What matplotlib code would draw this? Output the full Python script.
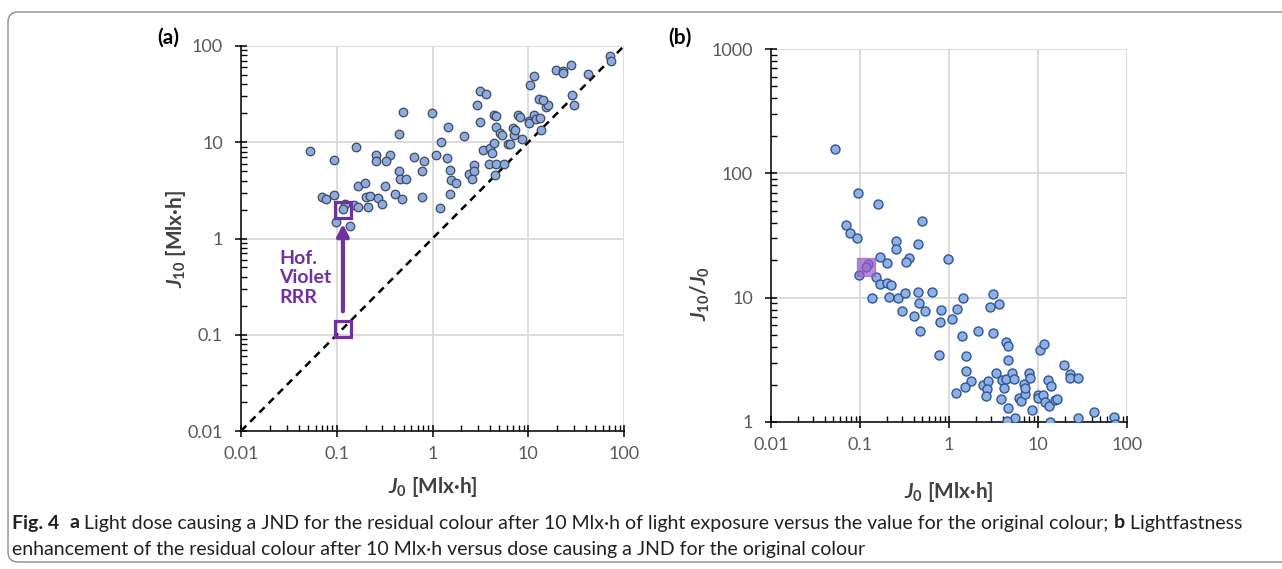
import numpy as np
import matplotlib
matplotlib.use('Agg')
import matplotlib.pyplot as plt
from matplotlib.ticker import LogLocator, FuncFormatter, NullFormatter
from matplotlib.patches import FancyBboxPatch

plt.rcParams['font.family'] = ['Lato', 'DejaVu Sans']
plt.rcParams['mathtext.fontset'] = 'custom'
plt.rcParams['mathtext.it'] = 'Lato:bold:italic'
plt.rcParams['mathtext.rm'] = 'Lato:bold'
plt.rcParams['mathtext.bf'] = 'Lato:bold'

# dose causing a JND for the original colour [Mlx.h]
J0 = [0.052, 0.094, 0.158, 0.497, 0.0703, 0.0779, 0.0925, 0.256, 0.256, 0.445,
      0.166, 0.1995, 0.358, 0.329, 0.983, 0.123, 0.116, 0.0975, 0.153, 0.166,
      0.203, 0.221, 0.136, 0.210, 0.267, 0.321, 0.449, 0.639, 0.456, 0.294,
      0.408, 0.533, 0.476, 0.806, 0.786, 0.778, 1.09, 1.23, 1.44, 1.41,
      1.54, 1.57, 1.75, 1.51, 1.20, 2.14, 3.12, 3.15, 2.91, 3.61,
      4.36, 4.60, 4.60, 2.39, 2.74, 2.70, 2.58, 3.40, 3.94, 4.41,
      5.06, 5.33, 4.15, 3.87, 4.60, 5.52, 4.52, 6.12, 6.50, 7.09,
      6.96, 7.20, 7.86, 8.13, 8.63, 10.4, 11.6, 10.1, 10.1, 11.5,
      12.1, 13.3, 15.4, 16.2, 12.9, 14.1, 13.5, 19.4, 22.9, 22.9,
      27.9, 28.4, 42.5, 70.8, 73.0, 30.0]
# dose causing a JND for the residual colour after 10 Mlx.h [Mlx.h]
J10 = [8.16, 6.58, 8.96, 20.6, 2.72, 2.57, 2.81, 7.32, 6.35, 12.06,
       3.50, 3.80, 7.45, 6.32, 20.15, 2.30, 2.04, 1.47, 2.25, 2.12,
       2.68, 2.78, 1.35, 2.14, 2.65, 3.50, 4.98, 7.09, 4.15, 2.30,
       2.91, 4.18, 2.56, 6.40, 4.97, 2.70, 7.32, 9.95, 14.4, 6.92,
       5.19, 4.05, 3.73, 2.88, 2.05, 11.6, 16.1, 34.0, 24.6, 32.0,
       19.1, 18.8, 14.5, 4.71, 5.81, 4.97, 4.15, 8.36, 8.63, 9.75,
       12.45, 11.9, 7.80, 5.92, 5.93, 5.96, 4.57, 9.49, 9.56, 11.8,
       14.1, 13.4, 19.3, 18.2, 10.7, 39.4, 48.8, 16.8, 15.7, 19.1,
       17.4, 17.8, 23.1, 24.6, 28.0, 27.6, 13.5, 55.7, 55.6, 51.8,
       63.1, 30.7, 51.0, 77.9, 70.0, 24.3]

# Hof. Violet RRR: original and after 10 Mlx.h
hof_J0 = 0.116
hof_J10 = [0.116, 2.0]
hof_ratio = 17.7

J0 = np.array(J0)
J10 = np.array(J10)
ratio = J10 / J0

purple = '#7030a0'
tick_col = '#595959'
lab_col = '#404040'


def style_axes(ax, xlim, ylim):
    ax.set_xscale('log')
    ax.set_yscale('log')
    ax.set_xlim(*xlim)
    ax.set_ylim(*ylim)
    for s in ['top', 'right']:
        ax.spines[s].set_visible(False)
    for s in ['left', 'bottom']:
        ax.spines[s].set_linewidth(1.1)
    ax.grid(True, which='major', color='#d9d9d9', lw=1.3)
    ax.set_axisbelow(True)
    for axis in (ax.xaxis, ax.yaxis):
        axis.set_major_locator(LogLocator(base=10, numticks=10))
        axis.set_minor_locator(LogLocator(base=10, subs=np.arange(2, 10), numticks=10))
        axis.set_major_formatter(FuncFormatter(lambda v, p: f'{v:g}'))
        axis.set_minor_formatter(NullFormatter())
    ax.tick_params(which='major', direction='inout', length=8, width=1.1,
                   labelsize=13, labelcolor=tick_col)
    ax.tick_params(which='minor', direction='in', length=4, width=1.0)
    ax.tick_params(axis='x', which='major', pad=7)
    ax.tick_params(axis='y', which='major', pad=9)


fig = plt.figure(figsize=(12.82, 5.69), dpi=100)

# ---- panel (a)
ax1 = fig.add_axes([241 / 1282, 1 - 431 / 569, 383 / 1282, 385 / 569])
style_axes(ax1, (0.01, 100), (0.01, 100))
ax1.plot([0.01, 100], [0.01, 100], ls=(0, (3, 2.2)), color='black', lw=1.8, zorder=2)
ax1.scatter(J0, J10, s=38, facecolor='#8faadc', edgecolor='#3b4a63', linewidth=0.9, zorder=3)
ax1.plot([hof_J0, hof_J0], hof_J10, ls='none', marker='s', ms=11, mfc='none',
         mec=purple, mew=2.3, zorder=4)
ax1.annotate('', xy=(hof_J0, 1.42), xytext=(hof_J0, 0.175),
             arrowprops=dict(arrowstyle='-|>,head_width=0.35,head_length=0.7',
                             lw=3, color=purple, shrinkA=0, shrinkB=0), zorder=4)
ax1.text(0.0249, 0.39, 'Hof.\nViolet\nRRR', color=purple, fontsize=14,
         fontweight='bold', ha='left', va='center', linespacing=1.2)
ax1.set_xlabel(r'$J_0$ [Mlx·h]', fontsize=15, fontweight='bold', color=lab_col)
ax1.set_ylabel(r'$J_{10}$ [Mlx·h]', fontsize=15, fontweight='bold', color=lab_col)
ax1.xaxis.set_label_coords(0.5, -0.145)
ax1.xaxis.label.set_va('center')
ax1.yaxis.set_label_coords(-0.169, 0.5)
ax1.yaxis.label.set_va('center')

# ---- panel (b)
ax2 = fig.add_axes([771 / 1282, 1 - 422 / 569, 356 / 1282, 373 / 569])
style_axes(ax2, (0.01, 100), (1, 1000))
ax2.scatter(J0, ratio, s=42, facecolor='#8eb0e3', edgecolor='#2f5597', linewidth=1.0, zorder=3)
ax2.plot([hof_J0], [hof_ratio], ls='none', marker='s', ms=13, color='#9a5cc6',
         alpha=0.7, zorder=4)
ax2.set_xlabel(r'$J_0$ [Mlx·h]', fontsize=15, fontweight='bold', color=lab_col)
ax2.set_ylabel(r'$J_{10}/J_0$', fontsize=15, fontweight='bold', color=lab_col)
ax2.xaxis.set_label_coords(0.5, -0.188)
ax2.xaxis.label.set_va('center')
ax2.yaxis.set_label_coords(-0.199, 0.345)
ax2.yaxis.label.set_va('center')

fig.text(168 / 1282, 1 - 38 / 569, '(a)', fontsize=15, fontweight='bold', ha='center', va='center')
fig.text(680 / 1282, 1 - 38 / 569, '(b)', fontsize=15, fontweight='bold', ha='center', va='center')

# ---- frame round the figure
frame = FancyBboxPatch((8, 7), 1320, 550, boxstyle='round,pad=0,rounding_size=10',
                       transform=None, facecolor='none', edgecolor='#8c8c8c', lw=1.0)
fig.patches.append(frame)

# ---- caption with bold pieces
cap_font = ['Liberation Sans Narrow', 'Lato', 'DejaVu Sans']
cap_size = 14
renderer = fig.canvas.get_renderer()


def caption_line(x, y, runs):
    for s, w in runs:
        t = fig.text(x, y, s, fontsize=cap_size, fontweight=w, family=cap_font,
                     color='#231f20', ha='left', va='center')
        x += t.get_window_extent(renderer).width / 1282


caption_line(12 / 1282, 1 - 523 / 569, [
    ('Fig. 4', 'bold'), ('  ', 'normal'), ('a', 'bold'),
    (' Light dose causing a JND for the residual colour after 10 Mlx·h of light exposure '
     'versus the value for the original colour; ', 'normal'),
    ('b', 'bold'), (' Lightfastness', 'normal')])
caption_line(12 / 1282, 1 - 549 / 569, [
    ('enhancement of the residual colour after 10 Mlx·h versus dose causing a JND '
     'for the original colour', 'normal')])

fig.savefig('out.png', dpi=100)
